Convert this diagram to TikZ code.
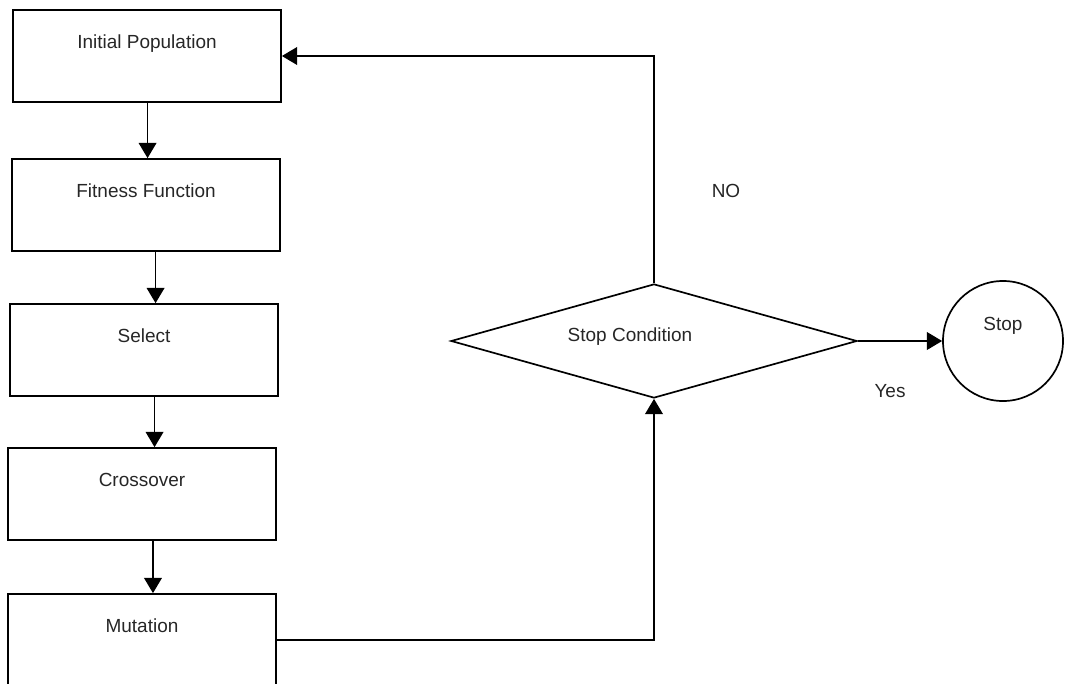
\documentclass[tikz,border=0pt]{standalone}
\usepackage{fontspec}
\setmainfont{Liberation Sans}
\usetikzlibrary{shapes.geometric,arrows.meta}
\begin{document}
\begin{tikzpicture}[x=0.025cm,y=-0.025cm,
    txt/.style={font=\fontsize{13.5}{16}\selectfont,text=black!85},
    stepbox/.style={txt,draw,rectangle,line width=1.2pt,minimum width=6.7cm,minimum height=2.3cm,text height=10pt,text depth=20pt},
    flow/.style={line width=1.2pt,-{Triangle[length=0.38cm,width=0.44cm]}}]
      \useasboundingbox (0,0) rectangle (1066,684);%

      \node[stepbox] (IP) at (147,56) {Initial Population};%
      \node[stepbox] (FF) at (146,205) {Fitness Function};%
      \node[stepbox] (SEL) at (144,350) {Select};%
      \node[stepbox] (CRO) at (142,494) {Crossover};%
      \node[stepbox] (MUT) at (142,640) {Mutation};%

      \node[draw,diamond,line width=1.2pt,inner sep=0pt,minimum width=10.15cm,minimum height=2.85cm] (SC) at (654,341) {};%
      \node[txt] (SCT) at (630,337) {Stop Condition};%

      \node[txt,draw,circle,line width=1.2pt,minimum size=3cm,text height=10pt,text depth=25pt] (STP) at (1003,341) {Stop};%

      \node[txt] (NO) at (726,191) {NO};%
      \node[txt] (YES) at (890,391) {Yes};%

      \draw[flow] ([xshift=0.4pt]IP.south) -- ([xshift=0.4pt]IP.south |- FF.north);%
      \draw[flow] ([xshift=6.8pt]FF.south) -- ([xshift=6.8pt]FF.south |- SEL.north);%
      \draw[flow] ([xshift=7.5pt]SEL.south) -- ([xshift=7.5pt]SEL.south |- CRO.north);%
      \draw[flow] ([xshift=7.8pt]CRO.south) -- ([xshift=7.8pt]CRO.south |- MUT.north);%

      \draw[flow] (MUT.east) -| (SC.south);%
      \draw[flow] (SC.north) |- (IP.east);%
      \draw[flow] (SC.east) -- (STP.west);%
\end{tikzpicture}
\end{document}
